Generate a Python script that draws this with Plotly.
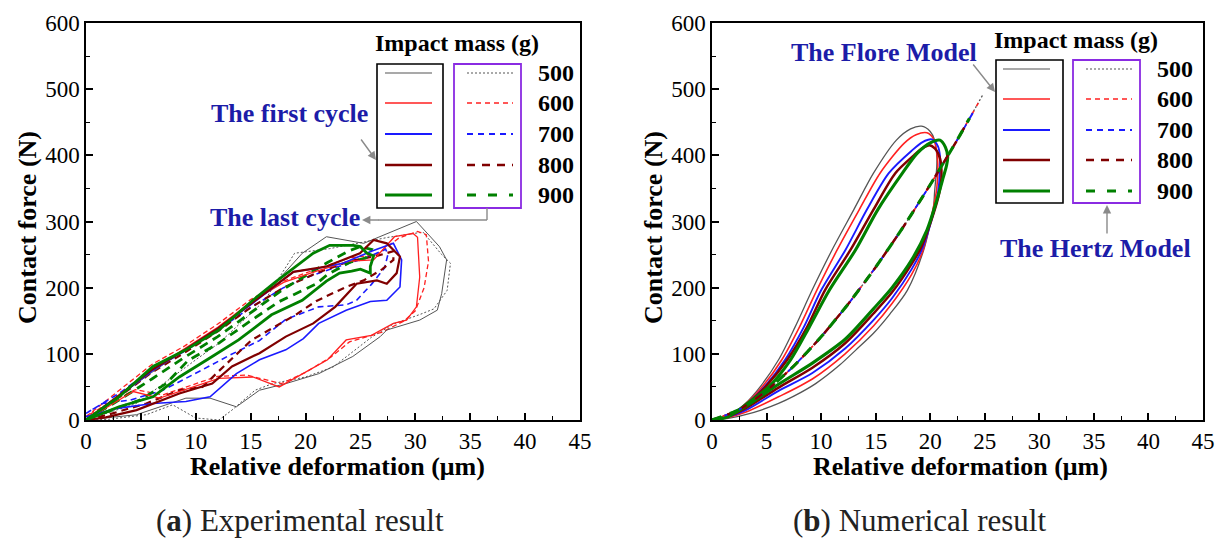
import plotly.graph_objects as go

W, H = 1220, 539

# ---------------- (a) Experimental data: first cycle (solid) / last cycle (dashed) ----------------
masses = ["500", "600", "700", "800", "900"]
colors = ["#555555", "#ff2020", "#1a1aff", "#800000", "#008000"]

exp_first_500_x = [0, 3, 6, 9, 12, 15, 17.2, 19.7, 21.9, 25.3, 28, 30.1, 32.2, 32.85, 32.4, 32, 30.4, 27.4, 26.8, 24.3, 21.2, 18.2, 15.8, 13.7, 11.3, 9.1, 4.6, 0]
exp_first_500_y = [0, 36, 72, 106, 138, 175, 206, 252, 277, 267, 285, 300, 262, 242, 191, 166, 151, 136, 126, 96, 70, 55, 45, 20, 33, 33, 8, 0]
exp_last_500_x = [0, 4.6, 10, 12.1, 16.3, 19, 22.2, 25, 27.5, 30.7, 32.4, 33.2, 32.9, 31.7, 30.5, 28, 26, 22.5, 20, 17, 15.4, 13.3, 12.1, 10, 7.9, 5.5, 2, 0]
exp_last_500_y = [0, 25, 91, 116, 181, 252, 259, 268, 276, 284, 250, 237, 196, 168, 160, 145, 125, 80, 65, 55, 45, 15, 0, 3, 23, 8, 1, 0]

exp_first_600_x = [0, 3, 6, 9, 12, 15, 18, 21, 24, 26.2, 28.1, 29.8, 30.2, 30.4, 30.1, 29.2, 28, 26, 23.7, 22, 19.7, 17.6, 15.2, 12.1, 6.7, 4.3, 2, 0]
exp_first_600_y = [0, 38, 76, 108, 140, 178, 208, 225, 240, 242, 277, 282, 276, 216, 171, 151, 146, 128, 121, 91, 70, 50, 65, 63, 33, 43, 20, 0]
exp_last_600_x = [0, 3, 6, 9, 12, 15, 18, 21, 24, 26.5, 28.5, 30.2, 31, 31.2, 30.8, 30, 29, 27, 24, 22.3, 20, 17.8, 14.6, 12, 7, 4.5, 2, 0]
exp_last_600_y = [5, 44, 84, 112, 145, 182, 210, 228, 245, 250, 275, 285, 280, 240, 200, 165, 150, 133, 118, 95, 72, 55, 68, 66, 38, 46, 25, 5]

exp_first_700_x = [0, 3, 6, 9, 12, 15, 18.9, 21, 23.4, 26, 28, 28.75, 28.6, 27.4, 25.9, 23.7, 21.2, 19.8, 18.2, 15.8, 13.7, 11.3, 9.1, 6.1, 3, 0]
exp_first_700_y = [0, 36, 74, 106, 138, 174, 224, 229, 237, 255, 267, 242, 201, 181, 179, 166, 146, 123, 106, 91, 70, 35, 28, 25, 18, 5]
exp_last_700_x = [0, 3, 6, 9, 12, 15, 18, 20, 23, 25.5, 27.3, 27.5, 27.2, 26, 24.65, 23.7, 21.2, 18.2, 15.8, 13.1, 10.5, 7, 4, 1.5, 0]
exp_last_700_y = [10, 40, 76, 104, 136, 170, 200, 215, 232, 245, 258, 250, 230, 205, 181, 174, 171, 152, 120, 98, 75, 45, 30, 25, 10]

exp_first_800_x = [0, 3, 6, 9, 12, 15, 18.9, 21.9, 24.95, 26.2, 27.4, 28.6, 28.3, 27.4, 26.5, 24.65, 23.5, 22.7, 20.7, 18.2, 15.8, 13.3, 11.5, 8.5, 4.6, 1.8, 0]
exp_first_800_y = [0, 37, 76, 106, 138, 176, 224, 232, 252, 272, 267, 247, 222, 206, 211, 206, 185, 171, 146, 126, 101, 81, 55, 40, 15, 4, 0]
exp_last_800_x = [0, 3, 6, 9, 12, 15, 18, 21, 24, 26.5, 28, 28, 27, 25.3, 23.7, 21, 19.1, 15.1, 12.8, 10.6, 8.5, 5.5, 2, 0]
exp_last_800_y = [0, 35, 72, 102, 134, 170, 200, 222, 240, 248, 255, 242, 228, 211, 201, 180, 159, 121, 85, 50, 45, 25, 8, 0]

exp_first_900_x = [0, 3, 6.1, 9.1, 12.1, 15.2, 17.3, 20.7, 22.2, 23.4, 24.35, 25, 25.6, 26.2, 25.9, 25.9, 25, 24.2, 23.1, 21.9, 21.2, 19.7, 16.9, 13.9, 11.5, 8.5, 6.1, 3, 0]
exp_first_900_y = [0, 35, 81, 106, 136, 181, 209, 252, 264, 264, 264, 262, 252, 248, 232, 222, 228, 225, 222, 210, 201, 181, 159, 121, 96, 65, 35, 20, 0]
exp_last_900_x = [0, 3, 6, 9, 12, 15, 18, 20, 22, 24, 25, 26, 25.5, 24, 22, 21, 17.6, 15, 12, 9.3, 7.3, 4.9, 1.5, 0]
exp_last_900_y = [0, 30, 62, 95, 126, 162, 198, 218, 238, 256, 262, 258, 245, 238, 220, 206, 179, 150, 115, 90, 55, 30, 10, 3]

# ---------------- (b) Numerical: Flores model loops (solid), Hertz model (dashed) ----------------
flores_500_x = [0, 1.5, 3.06, 4.5, 6.1, 7.6, 9.17, 11.0, 13.0, 14.8, 16.9, 18.2, 19.2, 20.0, 20.4, 20.6, 20.6, 20.4, 20.3, 19.4, 17.9, 16.3, 14.8, 13.2, 11.7, 9.5, 7.5, 6.1, 4.5, 3.06, 1.5, 0]
flores_500_y = [0, 6, 25, 52, 91, 140, 196, 257, 318, 373, 423, 440, 444, 436, 423, 400, 383, 345, 322, 257, 196, 160, 131, 106, 83, 55, 36, 25, 15, 8, 2.5, 0]
flores_600_x = [0, 1.5, 3.15, 4.7, 6.4, 8.0, 9.6, 11.47, 13.5, 15.4, 17.6, 18.7, 19.7, 20.3, 20.6, 20.7, 20.6, 20.3, 19.35, 18.3, 16.5, 14.8, 12.2, 9.2, 6.1, 3.06, 1.5, 0]
flores_600_y = [0, 6, 25, 52, 91, 140, 196, 257, 318, 373, 418, 431, 434, 425, 405, 385, 350, 322, 257, 220, 176, 142, 100, 62, 35, 11.6, 4, 0]
flores_700_x = [0, 1.5, 3.25, 4.9, 6.7, 8.4, 10.0, 12.23, 14.2, 16.2, 18.3, 19.3, 20.15, 20.7, 20.9, 20.9, 20.8, 20.5, 19.3, 18.3, 16.5, 14.8, 12.2, 9.2, 6.1, 3.06, 1.5, 0]
flores_700_y = [0, 5.5, 25, 52, 91, 140, 196, 257, 318, 373, 407, 420, 424, 414, 398, 385, 355, 325, 260, 228, 184, 151, 108, 71, 44, 14.6, 5, 0]
flores_800_x = [0, 1.5, 3.3, 5.0, 6.9, 8.7, 10.35, 12.69, 14.8, 16.8, 18.5, 19.3, 20.0, 20.6, 20.9, 21.0, 21.0, 20.6, 19.2, 18.3, 16.5, 14.8, 12.2, 9.2, 6.1, 3.06, 1.5, 0]
flores_800_y = [0, 5, 25, 52, 91, 140, 196, 257, 318, 373, 400, 411, 415, 407, 395, 385, 360, 328, 262, 236, 193, 161, 116, 79, 49, 17.6, 5.5, 0]
flores_900_x = [0, 1.5, 3.4, 5.2, 7.2, 8.9, 10.75, 13.15, 15.2, 17.45, 18.8, 20.0, 20.9, 21.4, 21.6, 21.5, 21.2, 20.6, 19.7, 18.3, 16.5, 14.8, 12.2, 9.2, 6.1, 3.06, 1.5, 0]
flores_900_y = [0, 5, 27, 50, 91, 140, 196, 257, 318, 373, 403, 419, 423, 412, 398, 385, 367, 332, 287, 242, 200, 168, 122, 86, 54, 20, 6, 0]

hertz_x = [0, 2.5, 5, 7.5, 10, 12.5, 15, 17.5, 20, 22.5]
hertz_y = [0, 15.7, 44.4, 81.6, 125.7, 175.7, 231, 291, 355.6, 424]
hertz_end_x = [24.8, 24.4, 23.9, 23.5, 23.6]
hertz_end_y = [491, 479, 464, 453, 456]

x_ticks = [0, 5, 10, 15, 20, 25, 30, 35, 40, 45]
y_ticks = [0, 100, 200, 300, 400, 500, 600]

# ---------------- styles ----------------
widths = [1.0, 1.3, 1.6, 2.2, 2.8]
leg_dash = ["2px,2px", "5px,4px", "6px,5px", "8px,7px", "9px,12px"]
exp_dash = ["2px,2px", "5px,3px", "6px,4px", "7px,5px", "9px,6px"]
hertz_dash = ["2px,2px", "6px,5px", "7px,6px", "9px,7px", "10px,9px"]

exp_first = [(exp_first_500_x, exp_first_500_y), (exp_first_600_x, exp_first_600_y),
             (exp_first_700_x, exp_first_700_y), (exp_first_800_x, exp_first_800_y),
             (exp_first_900_x, exp_first_900_y)]
exp_last = [(exp_last_500_x, exp_last_500_y), (exp_last_600_x, exp_last_600_y),
            (exp_last_700_x, exp_last_700_y), (exp_last_800_x, exp_last_800_y),
            (exp_last_900_x, exp_last_900_y)]
flores = [(flores_500_x, flores_500_y), (flores_600_x, flores_600_y), (flores_700_x, flores_700_y),
          (flores_800_x, flores_800_y), (flores_900_x, flores_900_y)]

fig = go.Figure()

for i in range(5):
    fig.add_trace(go.Scatter(x=exp_last[i][0], y=exp_last[i][1], mode="lines", xaxis="x", yaxis="y",
                             line=dict(color=colors[i], width=widths[i], dash=exp_dash[i]),
                             showlegend=False, hoverinfo="skip"))
for i in range(5):
    fig.add_trace(go.Scatter(x=exp_first[i][0], y=exp_first[i][1], mode="lines", xaxis="x", yaxis="y",
                             line=dict(color=colors[i], width=widths[i]),
                             showlegend=False, hoverinfo="skip"))

for i in range(5):
    fig.add_trace(go.Scatter(x=flores[i][0], y=flores[i][1], mode="lines", xaxis="x2", yaxis="y2",
                             line=dict(color=colors[i], width=widths[i] + 0.3, shape="spline", smoothing=0.8),
                             showlegend=False, hoverinfo="skip"))
for i in range(5):
    hx = hertz_x + [hertz_end_x[i]]
    hy = hertz_y + [hertz_end_y[i]]
    fig.add_trace(go.Scatter(x=hx, y=hy, mode="lines", xaxis="x2", yaxis="y2",
                             line=dict(color=colors[i], width=widths[i] + 0.3, dash=hertz_dash[i],
                                       shape="spline", smoothing=0.6),
                             showlegend=False, hoverinfo="skip"))

SERIF = "Times New Roman, Liberation Serif, DejaVu Serif, serif"


def px(v):
    return v / W


def py(v):
    return 1 - v / H


axis_common = dict(range=[0, 45], tickvals=x_ticks, ticks="inside", ticklen=7, tickwidth=1.5,
                   tickcolor="black", showline=True, linecolor="black", linewidth=1.5, mirror=True,
                   showgrid=False, zeroline=False, automargin=False,
                   minor=dict(ticks="inside", ticklen=4, tickwidth=1.2, tickcolor="black", dtick=2.5, showgrid=False),
                   tickfont=dict(family=SERIF, size=23, color="black"))
yaxis_common = dict(range=[0, 600], tickvals=y_ticks, ticks="inside", ticklen=7, tickwidth=1.5,
                    tickcolor="black", showline=True, linecolor="black", linewidth=1.5, mirror=True,
                    showgrid=False, zeroline=False, automargin=False,
                    minor=dict(ticks="inside", ticklen=4, tickwidth=1.2, tickcolor="black", dtick=50, showgrid=False),
                    tickfont=dict(family=SERIF, size=23, color="black"))

ydom = [1 - 420 / H, 1 - 23 / H]
fig.update_layout(
    width=W, height=H, margin=dict(l=0, r=0, t=0, b=0, autoexpand=False),
    paper_bgcolor="white", plot_bgcolor="white",
    xaxis=dict(domain=[px(86), px(580)], anchor="y", **axis_common),
    yaxis=dict(domain=ydom, anchor="x", **yaxis_common),
    xaxis2=dict(domain=[px(712), px(1203)], anchor="y2", **axis_common),
    yaxis2=dict(domain=ydom, anchor="x2", **yaxis_common),
)

shapes = []
annos = []
NAVY = "#1c1ca8"
GRAY = "#8a8a8a"


def text(x, y, s, size=24, color="black", bold=True, angle=0, xanchor="center"):
    annos.append(dict(x=px(x), y=py(y), xref="paper", yref="paper", text=(f"<b>{s}</b>" if bold else s),
                      showarrow=False, textangle=angle, xanchor=xanchor, yanchor="middle",
                      font=dict(family=SERIF, size=size, color=color)))


def line(x0, y0, x1, y1, color, width, dash="solid"):
    shapes.append(dict(type="line", xref="paper", yref="paper", x0=px(x0), y0=py(y0), x1=px(x1), y1=py(y1),
                       line=dict(color=color, width=width, dash=dash)))


def rect(x0, y0, x1, y1, color, width):
    shapes.append(dict(type="rect", xref="paper", yref="paper", x0=px(x0), y0=py(y0), x1=px(x1), y1=py(y1),
                       line=dict(color=color, width=width), fillcolor="rgba(0,0,0,0)"))


def arrow(xh, yh, xt, yt):
    annos.append(dict(x=px(xh), y=py(yh), xref="paper", yref="paper", ax=xt - xh, ay=yt - yh,
                      axref="pixel", ayref="pixel", text="", showarrow=True, arrowhead=2, arrowsize=1.2,
                      arrowwidth=1.4, arrowcolor=GRAY))


# axis titles
text(27, 228, "Contact force (N)", size=26, angle=-90)
text(653, 228, "Contact force (N)", size=26, angle=-90)
text(337, 466, "Relative deformation (μm)", size=26)
text(960, 466, "Relative deformation (μm)", size=26)
# captions
text(300, 520, "(<b>a</b>) Experimental result", size=31, color="#222222", bold=False)
text(920, 520, "(<b>b</b>) Numerical result", size=31, color="#222222", bold=False)


def legend(tx, ty, bx0, bx1, px0, px1, by0, by1, sx0, sx1, dx0, dx1, rows, labx):
    text(tx, ty, "Impact mass (g)", size=24)
    rect(bx0, by0, bx1, by1, "black", 1.6)
    rect(px0, by0, px1, by1, "#8a2be2", 1.8)
    for i in range(5):
        line(sx0, rows[i], sx1, rows[i], colors[i], widths[i] + 0.2)
        line(dx0, rows[i], dx1, rows[i], colors[i], widths[i] + 0.2, leg_dash[i])
        text(labx, rows[i], masses[i], size=24)


legend(457, 43, 377, 443, 454, 521, 64, 208, 385, 432, 467, 513, [73, 103, 134, 165, 195], 556)
legend(1076, 40, 996, 1063, 1073, 1140, 60, 203, 1003, 1050, 1086, 1132, [69, 99, 130, 160, 191], 1175)

# annotations (a)
text(289, 113, "The first cycle", size=26, color=NAVY)
arrow(376, 160, 360, 138)
text(285, 218, "The last cycle", size=26, color=NAVY)
line(487, 208, 487, 220, GRAY, 1.4)
line(487, 220, 378, 220, GRAY, 1.4)
arrow(362, 220, 380, 220)
# annotations (b)
text(884, 52, "The Flore Model", size=26, color=NAVY)
arrow(995, 92, 972, 63)
text(1095, 249, "The Hertz Model", size=26, color=NAVY)
arrow(1107, 205, 1107, 235)

fig.update_layout(shapes=shapes, annotations=annos)
fig.write_html("out.html", config={"displayModeBar": False},
               post_script="document.body.style.margin='0';document.body.style.padding='0';")
